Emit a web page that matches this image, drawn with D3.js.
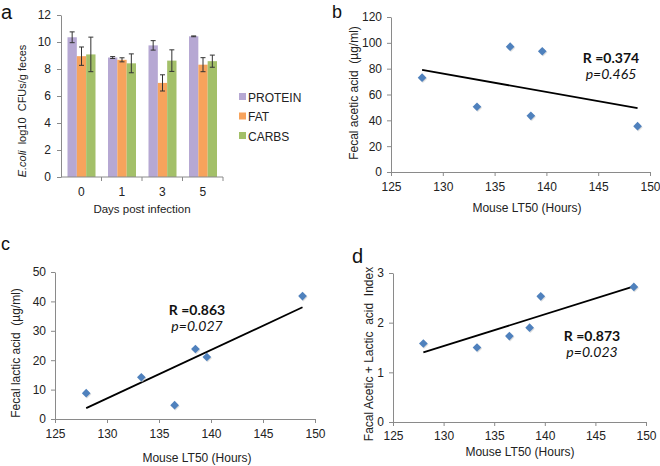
<!DOCTYPE html>
<html><head><meta charset="utf-8">
<script src="https://cdn.jsdelivr.net/npm/d3@7"></script>
<style>body{margin:0;background:#fff}svg{display:block}</style>
</head><body>
<svg id="c" width="660" height="466"></svg>
<script>
// Panel a data
const days = ["0","1","3","5"];
const seriesNames = ["PROTEIN","FAT","CARBS"];
const proteinMean = [10.35, 8.85, 9.75, 10.42];
const proteinErr  = [0.4, 0.07, 0.35, 0.03];
const fatMean     = [8.95, 8.68, 6.97, 8.32];
const fatErr      = [0.68, 0.15, 0.6, 0.52];
const carbsMean   = [9.08, 8.42, 8.62, 8.58];
const carbsErr    = [1.28, 0.7, 0.8, 0.45];
const barTicks = [0,2,4,6,8,10,12];
// Scatter panels: x = Mouse LT50 (hours)
const lt50 = [128, 133.3, 136.5, 138.5, 139.6, 148.8];
const aceticAcid = [73, 50.5, 97, 43.5, 93.5, 35.5];
const lacticAcid = [8.8, 14.2, 4.7, 23.8, 21.1, 41.8];
const indexVals = [1.58, 1.5, 1.73, 1.9, 2.53, 2.72];
const fitX = [128, 148.8];
const aceticFit = [79, 49.5];
const lacticFit = [3.7, 38];
const indexFit = [1.4, 2.73];
const xTicks = [125,130,135,140,145,150];

const svg = d3.select("#c");
const font = "Liberation Sans, Arial, sans-serif";
const annFont = "Lato, 'Open Sans', sans-serif";
const axisCol = "#8a8a8a";
const colors = ["#b6a8d3","#f7a35c","#a3c069"];

function styleAxis(g){
  g.selectAll("path,line").attr("stroke", axisCol);
  g.selectAll("text").attr("font-family", font).attr("font-size", 12).attr("fill","#222");
}

// ---------- Panel a ----------
{
  const x = d3.scaleBand().domain(days).range([61,223]).paddingInner(0).paddingOuter(0);
  const y = d3.scaleLinear().domain([0,12]).range([177,15]);
  const inner = d3.scaleBand().domain(seriesNames).range([6.5, 34.5]);
  const gY = svg.append("g").attr("transform","translate(61,0)")
    .call(d3.axisLeft(y).tickValues(barTicks).tickSize(4).tickSizeOuter(0).tickPadding(6));
  styleAxis(gY);
  const means = [proteinMean, fatMean, carbsMean];
  const errs = [proteinErr, fatErr, carbsErr];
  seriesNames.forEach((s,si)=>{
    const g = svg.append("g");
    g.selectAll("rect").data(days).join("rect")
      .attr("x", d=>x(d)+inner(s)).attr("width", inner.bandwidth())
      .attr("y", (d,i)=>y(means[si][i])).attr("height",(d,i)=>y(0)-y(means[si][i]))
      .attr("fill", colors[si]);
    days.forEach((d,i)=>{
      const cx = x(d)+inner(s)+inner.bandwidth()/2;
      const lo = y(means[si][i]-errs[si][i]), hi = y(means[si][i]+errs[si][i]);
      g.append("line").attr("x1",cx).attr("x2",cx).attr("y1",lo).attr("y2",hi).attr("stroke","#333").attr("stroke-width",1);
      [lo,hi].forEach(v=>g.append("line").attr("x1",cx-2.5).attr("x2",cx+2.5).attr("y1",v).attr("y2",v).attr("stroke","#333").attr("stroke-width",1));
    });
  });
  const gX = svg.append("g").attr("transform","translate(0,177)");
  gX.append("line").attr("x1",61).attr("x2",223).attr("y1",0).attr("y2",0).attr("stroke",axisCol);
  days.forEach((d,i)=>{
    gX.append("line").attr("x1",x(d)+x.bandwidth()).attr("x2",x(d)+x.bandwidth()).attr("y1",0).attr("y2",4).attr("stroke",axisCol);
    gX.append("text").attr("x",x(d)+x.bandwidth()/2).attr("y",19).attr("text-anchor","middle")
      .attr("font-family",font).attr("font-size",12).attr("fill","#222").text(d);
  });
  svg.append("text").attr("x",142).attr("y",213).attr("text-anchor","middle")
    .attr("font-family",font).attr("font-size",11.5).attr("fill","#222").text("Days post infection");
  const yl = svg.append("text").attr("transform","translate(26,111) rotate(-90)").attr("text-anchor","middle")
    .attr("font-family",font).attr("font-size",11).attr("fill","#222").attr("xml:space","preserve");
  yl.append("tspan").attr("font-style","italic").text("E.coli");
  yl.append("tspan").text("  log10  CFUs/g feces");
  seriesNames.forEach((s,i)=>{
    const ly = 97 + i*19.5;
    svg.append("rect").attr("x",239).attr("y",ly-4).attr("width",7).attr("height",7).attr("fill",colors[i]);
    svg.append("text").attr("x",248).attr("y",ly+4.5).attr("font-family",font).attr("font-size",12).attr("fill","#222").text(s);
  });
  svg.append("text").attr("x",1).attr("y",19).attr("font-family",font).attr("font-size",20).attr("fill","#111").text("a");
}

// ---------- scatter helper ----------
function scatter(opt){
  const x = d3.scaleLinear().domain([125,150]).range([opt.x0,opt.x1]);
  const y = d3.scaleLinear().domain(opt.yDomain).range([opt.y0,opt.y1]);
  const gY = svg.append("g").attr("transform",`translate(${opt.x0},0)`)
    .call(d3.axisLeft(y).tickValues(opt.yTicks).tickFormat(d3.format("d")).tickSize(4).tickSizeOuter(0).tickPadding(5));
  styleAxis(gY);
  const gX = svg.append("g").attr("transform",`translate(0,${opt.y0})`)
    .call(d3.axisBottom(x).tickValues(xTicks).tickSize(4).tickSizeOuter(0).tickPadding(opt.tickPad));
  styleAxis(gX);
  svg.append("line").attr("x1",x(fitX[0])).attr("x2",x(fitX[1]))
    .attr("y1",y(opt.fit[0])).attr("y2",y(opt.fit[1])).attr("stroke","#000").attr("stroke-width",1.8);
  const sym = d3.symbol().type(d3.symbolDiamond2).size(48);
  svg.append("g").selectAll("path.sh").data(lt50).join("path")
    .attr("transform",(d,i)=>`translate(${x(d)+0.8},${y(opt.vals[i])+1})`)
    .attr("d",sym).attr("fill","#c8c8c8").attr("opacity",0.6);
  svg.append("g").selectAll("path.pt").data(lt50).join("path")
    .attr("transform",(d,i)=>`translate(${x(d)},${y(opt.vals[i])})`)
    .attr("d",sym).attr("fill","#4f81bd");
  svg.append("text").attr("x",opt.xt[0]).attr("y",opt.xt[1]).attr("text-anchor","middle")
    .attr("font-family",font).attr("font-size",12).attr("fill","#222").text("Mouse LT50 (Hours)");
  svg.append("text").attr("transform",`translate(${opt.yt[0]},${opt.yt[1]}) rotate(-90)`).attr("text-anchor","middle")
    .attr("font-family",font).attr("font-size",12).attr("fill","#222").attr("xml:space","preserve").text(opt.yLabel);
  svg.append("text").attr("x",opt.ann[0]).attr("y",opt.ann[1]).attr("text-anchor","middle")
    .attr("font-family",annFont).attr("font-weight","bold").attr("font-size",14).attr("fill","#111").text(opt.r);
  svg.append("text").attr("x",opt.ann[0]).attr("y",opt.ann[1]+16).attr("text-anchor","middle")
    .attr("font-family",annFont).attr("font-style","italic").attr("font-size",14).attr("fill","#111").text(opt.p);
  svg.append("text").attr("x",opt.lab[0]).attr("y",opt.lab[1]).attr("font-family",font).attr("font-size",opt.labSize).attr("fill","#111").text(opt.letter);
}

scatter({x0:391,x1:650,y0:172,y1:17,yDomain:[0,120],yTicks:[0,20,40,60,80,100,120],vals:aceticAcid,fit:aceticFit,
  tickPad:6,xt:[527,212],yt:[358,93],yLabel:"Fecal acetic acid  (\u00b5g/ml)",ann:[611,63],r:"R =0.374",p:"p=0.465",lab:[332,18],letter:"b",labSize:18});
scatter({x0:55,x1:315,y0:419,y1:272,yDomain:[0,50],yTicks:[0,10,20,30,40,50],vals:lacticAcid,fit:lacticFit,
  tickPad:6,xt:[197,462],yt:[20,353],yLabel:"Fecal lactic acid  (\u00b5g/ml)",ann:[197,315],r:"R =0.863",p:"p=0.027",lab:[1,250],letter:"c",labSize:18});
scatter({x0:393,x1:646,y0:422,y1:273,yDomain:[0,3],yTicks:[0,1,2,3],vals:indexVals,fit:indexFit,
  tickPad:5,xt:[520,456],yt:[373,354],yLabel:"Facal Acetic + Lactic  acid  Index",ann:[592,341],r:"R =0.873",p:"p=0.023",lab:[352,263],letter:"d",labSize:20});
</script>
</body></html>
